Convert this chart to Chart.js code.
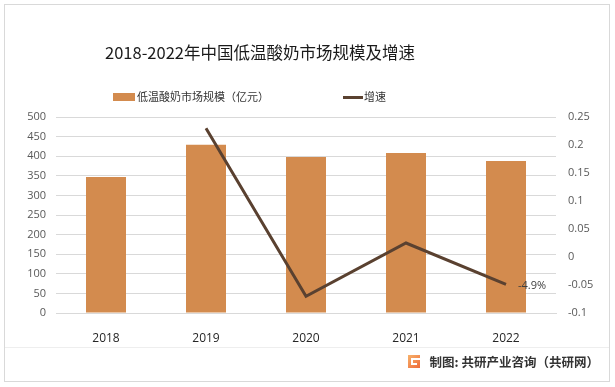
<!DOCTYPE html>
<html>
<head>
<meta charset="utf-8">
<script src="https://cdn.jsdelivr.net/npm/chart.js@4.4.0/dist/chart.umd.min.js"></script>
<style>
  html, body { margin: 0; padding: 0; background: #fff; }
  #wrap { width: 615px; height: 387px; position: relative; }
</style>
</head>
<body>
<div id="wrap"><canvas id="marketChart" width="615" height="387"></canvas></div>
<script>
// data
var years = ['2018', '2019', '2020', '2021', '2022'];
var marketSize = [347, 429, 398, 408, 388];       // 亿元
var growthRate = [null, 0.23, -0.07, 0.025, -0.049];
var leftTicks = [0, 50, 100, 150, 200, 250, 300, 350, 400, 450, 500];
var rightTicks = [-0.1, -0.05, 0, 0.05, 0.1, 0.15, 0.2, 0.25];

var barColor = '#D38B4E';
var lineColor = '#5A4130';
var cjk = '"Noto Sans CJK SC", "Noto Sans", sans-serif';
var num = '"Open Sans", "DejaVu Sans", sans-serif';

// title, legend, frame, label and footer
var decorPlugin = {
    id: 'decor',
    beforeDraw: function (chart) {
        var ctx = chart.ctx;
        ctx.save();
        ctx.strokeStyle = '#d9d9d9';
        ctx.lineWidth = 1;
        ctx.strokeRect(4.5, 4.5, 605, 377);
        ctx.beginPath();
        ctx.moveTo(5, 347.5);
        ctx.lineTo(609, 347.5);
        ctx.strokeStyle = '#eeeeee';
        ctx.stroke();
        ctx.restore();
    },
    afterDraw: function (chart) {
        var ctx = chart.ctx;
        ctx.save();
        // title
        ctx.fillStyle = '#1a1a1a';
        ctx.font = '16.5px ' + cjk;
        ctx.textAlign = 'center';
        ctx.textBaseline = 'middle';
        ctx.fillText('2018-2022年中国低温酸奶市场规模及增速', 260, 53);

        // legend
        ctx.textAlign = 'left';
        ctx.font = '11px ' + cjk;
        ctx.fillStyle = barColor;
        ctx.fillRect(113, 93, 22, 8);
        ctx.fillStyle = '#333333';
        ctx.fillText('低温酸奶市场规模（亿元）', 137, 97);
        ctx.fillStyle = lineColor;
        ctx.fillRect(343, 96, 20, 3);
        ctx.fillStyle = '#333333';
        ctx.fillText('增速', 364, 97);

        // data label on the last point
        var meta = chart.getDatasetMeta(1);
        var pt = meta.data[4];
        ctx.font = '11px ' + num;
        ctx.fillStyle = '#404040';
        ctx.fillText((growthRate[4] * 100).toFixed(1) + '%', pt.x + 12, pt.y + 1);

        // footer
        var g = ctx.createLinearGradient(408, 355, 420, 368);
        g.addColorStop(0, '#f7b26b');
        g.addColorStop(1, '#ef6b3a');
        ctx.fillStyle = g;
        ctx.fillRect(408, 355, 12, 13);
        ctx.fillStyle = '#fff';
        ctx.fillRect(411, 358, 9, 2);
        ctx.fillRect(411, 358, 2, 7);
        ctx.fillRect(411, 363, 6, 2);
        ctx.fillStyle = '#333333';
        ctx.font = 'bold 12.5px ' + cjk;
        ctx.textAlign = 'right';
        ctx.fillText('制图: 共研产业咨询（共研网）', 599, 362);
        ctx.restore();
    }
};

var ctx = document.getElementById('marketChart').getContext('2d');
var marketChart = new Chart(ctx, {
    data: {
        labels: years,
        datasets: [{
            type: 'bar',
            label: '低温酸奶市场规模（亿元）',
            data: marketSize,
            backgroundColor: barColor,
            barPercentage: 0.4,
            categoryPercentage: 1,
            yAxisID: 'y',
            order: 2
        }, {
            type: 'line',
            label: '增速',
            data: growthRate,
            borderColor: lineColor,
            borderWidth: 3,
            pointRadius: 0,
            tension: 0,
            yAxisID: 'y1',
            order: 1
        }]
    },
    options: {
        responsive: false,
        animation: false,
        layout: { padding: { top: 117, left: 0, right: 0, bottom: 0 } },
        plugins: {
            legend: { display: false },
            title: { display: false },
            tooltip: { enabled: false }
        },
        scales: {
            x: {
                grid: { display: false },
                border: { color: '#d9d9d9' },
                ticks: { color: '#262626', font: { family: num, size: 12 }, padding: 10 },
                afterFit: function (s) { s.height = 74; }
            },
            y: {
                position: 'left',
                min: 0,
                max: 500,
                afterBuildTicks: function (s) { s.ticks = leftTicks.map(function (v) { return { value: v }; }); },
                grid: { color: '#d9d9d9', drawTicks: false },
                border: { display: false },
                ticks: { color: '#595959', font: { family: num, size: 11 }, padding: 10 },
                afterFit: function (s) { s.width = 56; }
            },
            y1: {
                position: 'right',
                min: -0.1,
                max: 0.25,
                afterBuildTicks: function (s) { s.ticks = rightTicks.map(function (v) { return { value: v }; }); },
                grid: { display: false, drawTicks: false },
                border: { display: false },
                ticks: {
                    color: '#595959',
                    font: { family: num, size: 11 },
                    padding: 12,
                    callback: function (v) { return String(Number(v.toFixed(2))); }
                },
                afterFit: function (s) { s.width = 59; }
            }
        }
    },
    plugins: [decorPlugin]
});
</script>
</body>
</html>
